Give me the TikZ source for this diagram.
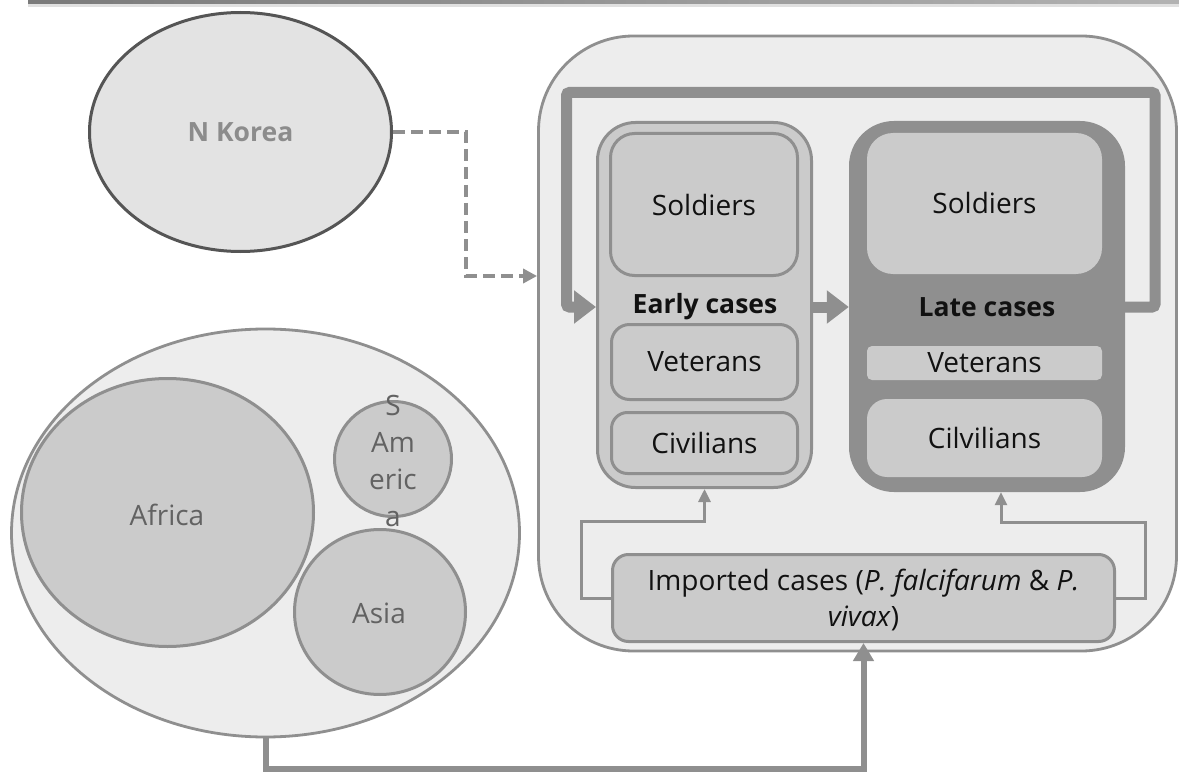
\documentclass[tikz,border=0pt]{standalone}
\usepackage{fontspec}
\setmainfont{Open Sans}
\usetikzlibrary{arrows.meta,shapes.geometric}

\definecolor{linegray}{HTML}{8F8F8F}
\definecolor{panelfill}{HTML}{EDEDED}
\definecolor{boxfill}{HTML}{CBCBCB}
\definecolor{nkfill}{HTML}{E3E3E3}
\definecolor{nkline}{HTML}{555555}
\definecolor{nktext}{HTML}{8C8C8C}
\definecolor{geotext}{HTML}{626262}
\definecolor{txt}{HTML}{111111}

\begin{document}
\begin{tikzpicture}[x=1pt,y=-1pt,
  lbl/.style={font=\fontsize{28}{36}\selectfont, text=txt, align=center, inner sep=0pt},
  boldlbl/.style={font=\fontsize{26.5}{34}\selectfont\bfseries, text=txt, inner sep=0pt},
  geolbl/.style={font=\fontsize{28}{37}\selectfont, text=geotext, align=center, inner sep=0pt},
  panel/.style={rectangle, draw=linegray, line width=2.8pt, fill=panelfill, inner sep=0pt},
  cbox/.style={rectangle, draw=linegray, line width=3pt, fill=boxfill, inner sep=0pt},
  fbox/.style={rectangle, fill=boxfill, inner sep=0pt},
  region/.style={ellipse, draw=linegray, line width=3pt, fill=boxfill, inner sep=0pt},
  bigflow/.style={draw=linegray, line width=11pt, rounded corners=3pt,
    -{Triangle[length=22pt,width=32pt]}},
  thinflow/.style={draw=linegray, line width=3pt,
    -{Triangle[length=13pt,width=12pt]}},
  midflow/.style={draw=linegray, line width=6pt,
    -{Triangle[length=18pt,width=20pt]}},
  dashflow/.style={draw=linegray, line width=4pt, dash pattern=on 12pt off 6pt,
    -{Triangle[length=14pt,width=14pt]}}
]
\useasboundingbox (0,0) rectangle (1179,773);

% header rule with its soft shadow
\shade[left color=black!52, right color=black!30] (28,0) rectangle (1179,4.5);
\fill[black!12] (28,4.5) rectangle (1179,7);

% ---------- North Korea ----------
\node[ellipse, draw=nkline, line width=3pt, fill=nkfill, inner sep=0pt,
      minimum width=302, minimum height=239] (nk) at (240.5,132) {};
\node[font=\fontsize{26.5}{34}\selectfont\bfseries, text=nktext] (nklbl) at (nk.center) {N Korea};

% ---------- overseas regions ----------
\node[ellipse, draw=linegray, line width=2.8pt, fill=panelfill, inner sep=0pt,
      minimum width=508, minimum height=408] (world) at (265.5,533) {};
\node[region, minimum width=292, minimum height=268] (africa) at (167.5,512.5) {};
\node[geolbl] (africalbl) at (167,515) {Africa};
\node[region, minimum width=117, minimum height=115] (sam) at (393,459) {};
\node[geolbl] (samlbl) at (393,461) {S\\Am\\eric\\a};
\node[region, minimum width=171, minimum height=165] (asia) at (380,612) {};
\node[geolbl] (asialbl) at (379,613) {Asia};

% ---------- South Korea panel ----------
\node[panel, rounded corners=95pt, minimum width=638, minimum height=615] (big) at (857.5,343.5) {};

% early cases
\node[cbox, rounded corners=38pt, minimum width=214, minimum height=365] (early) at (704.5,305) {};
\node[cbox, rounded corners=24pt, minimum width=187, minimum height=142] (esol) at (704,204.5) {};
\node[lbl] at (esol.center) {Soldiers};
\node[boldlbl] (elbl) at (705,307) {Early cases};
\node[cbox, rounded corners=18pt, minimum width=186, minimum height=75] (evet) at (704.5,362) {};
\node[lbl] at (evet.center) {Veterans};
\node[cbox, rounded corners=16pt, minimum width=186, minimum height=61] (eciv) at (704.5,443) {};
\node[lbl] at (eciv.center) {Civilians};

% late cases
\node[rectangle, fill=linegray, rounded corners=45pt, inner sep=0pt,
      minimum width=276, minimum height=371] (late) at (987,306.5) {};
\node[fbox, rounded corners=26pt, minimum width=235, minimum height=141] (lsol) at (984.5,203.5) {};
\node[lbl] at (lsol.center) {Soldiers};
\node[boldlbl] (llbl) at (987,307) {Late cases};
\node[fbox, rounded corners=5pt, minimum width=235, minimum height=34] (lvet) at (984.5,363) {};
\node[lbl] at (lvet.center) {Veterans};
\node[fbox, rounded corners=20pt, minimum width=235, minimum height=78] (lciv) at (984.5,438) {};
\node[lbl] at (lciv.center) {Cilvilians};

% imported cases
\node[cbox, rounded corners=16pt, minimum width=502, minimum height=87] (imp) at (863.5,598) {};
\node[lbl] (implbl) at (863.5,600) {Imported cases (\textit{P. falcifarum} \& \textit{P.}\\\textit{vivax})};

% ---------- connectors ----------
\coordinate (dk) at (466,276);
\draw[dashflow] (nk.east) -| (dk) -- (dk -| big.west);

\draw[bigflow] (early.east |- elbl) -- (late.west |- elbl);

\coordinate (loopTR) at (1155,92.5);
\coordinate (loopTL) at (566.5,92.5);
\draw[bigflow] (late.east |- llbl) -| (loopTR) -- (loopTL) |- (early.west |- elbl);

\coordinate (impL) at (581,521);
\draw[thinflow] (imp.west) -| (impL) -| (early.south);
\coordinate (impR) at (1145,522);
\draw[thinflow] (imp.east) -| (impR) -| ([xshift=14pt]late.south);

\coordinate (bt) at (265.5,769);
\draw[midflow] (world.south) -- (bt) -| (imp.south);

\end{tikzpicture}
\end{document}
